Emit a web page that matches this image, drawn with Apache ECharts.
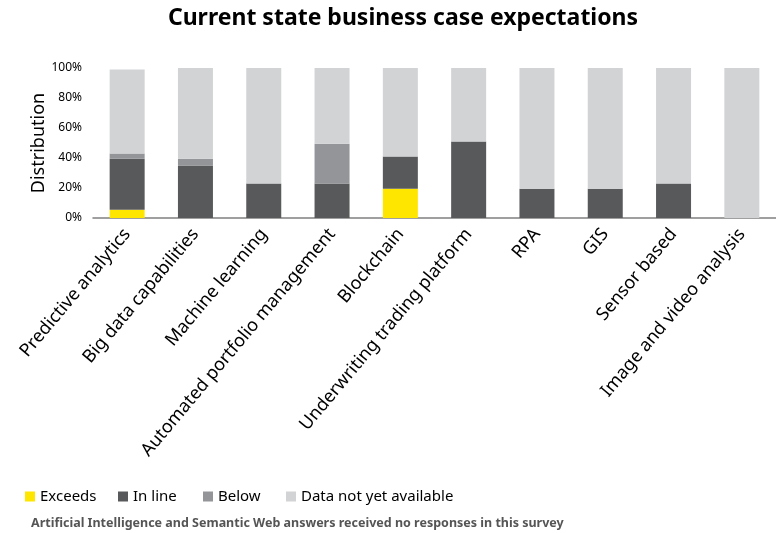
<!DOCTYPE html>
<html><head><meta charset="utf-8">
<script src="https://cdn.jsdelivr.net/npm/echarts@6/dist/echarts.min.js"></script>
<style>html,body{margin:0;padding:0;background:#fff}#c{width:776px;height:533px}</style>
</head><body><div id="c"></div>
<script>
const categories = ["Predictive analytics","Big data capabilities","Machine learning","Automated portfolio management","Blockchain","Underwriting trading platform","RPA","GIS","Sensor based","Image and video analysis"];
const exceeds = [5.5, 0, 0, 0, 19.5, 0, 0, 0, 0, 0];
const inLine = [34, 35, 23, 23, 21.5, 51, 19.5, 19.5, 23, 0];
const below = [3.5, 4.5, 0, 26.5, 0, 0, 0, 0, 0, 0];
const notYet = [56, 60.5, 77, 50.5, 59, 49, 80.5, 80.5, 77, 100];
const yTicks = [0, 20, 40, 60, 80, 100];
const seriesNames = ['Exceeds','In line','Below','Data not yet available'];

const FONT = "Noto Sans";
const chart = echarts.init(document.getElementById('c'), null, {renderer:'canvas'});
const mk = (name, data, color) => ({name, type:'bar', stack:'s', data, barWidth:35, itemStyle:{color}, emphasis:{disabled:true}});
const legendLefts = [20, 113, 198, 281];
chart.setOption({
  animation:false,
  textStyle:{fontFamily:FONT},
  title:[
    {text:'Current state business case expectations', left:398, textAlign:'center', top:2,
     textStyle:{fontFamily:FONT, fontWeight:'bold', fontSize:23, color:'#000'}},
    {text:'Artificial Intelligence and Semantic Web answers received no responses in this survey', left:26, top:512,
     textStyle:{fontFamily:FONT, fontWeight:'bold', fontSize:12.5, color:'#555'}}
  ],
  legend: seriesNames.map((n, i) => ({left:legendLefts[i], top:484, itemWidth:10, itemHeight:10, icon:'rect',
    textStyle:{fontFamily:FONT, fontSize:15, color:'#000'}, data:[n]})),
  grid:{left:93, right:-10, top:68, bottom:315, containLabel:false},
  xAxis:{type:'category', data:categories,
    axisLine:{lineStyle:{color:'#808080', width:1.5}}, axisTick:{show:false},
    axisLabel:{rotate:50, margin:13, fontSize:18, color:'#000', interval:0, fontFamily:FONT}},
  yAxis:{type:'value', min:yTicks[0], max:yTicks[yTicks.length-1], interval:20,
    name:'Distribution', nameLocation:'middle', nameGap:45, nameRotate:90, nameMoveOverlap:false,
    nameTextStyle:{fontSize:18, color:'#000', fontFamily:FONT},
    splitLine:{show:false}, axisLine:{show:false}, axisTick:{show:false},
    axisLabel:{formatter:'{value}%', fontSize:12, color:'#000', margin:11, fontFamily:FONT}},
  series:[
    mk(seriesNames[0], exceeds, '#FFE600'),
    mk(seriesNames[1], inLine, '#58595B'),
    mk(seriesNames[2], below, '#939598'),
    mk(seriesNames[3], notYet, '#D2D3D5')
  ]
});
</script></body></html>
